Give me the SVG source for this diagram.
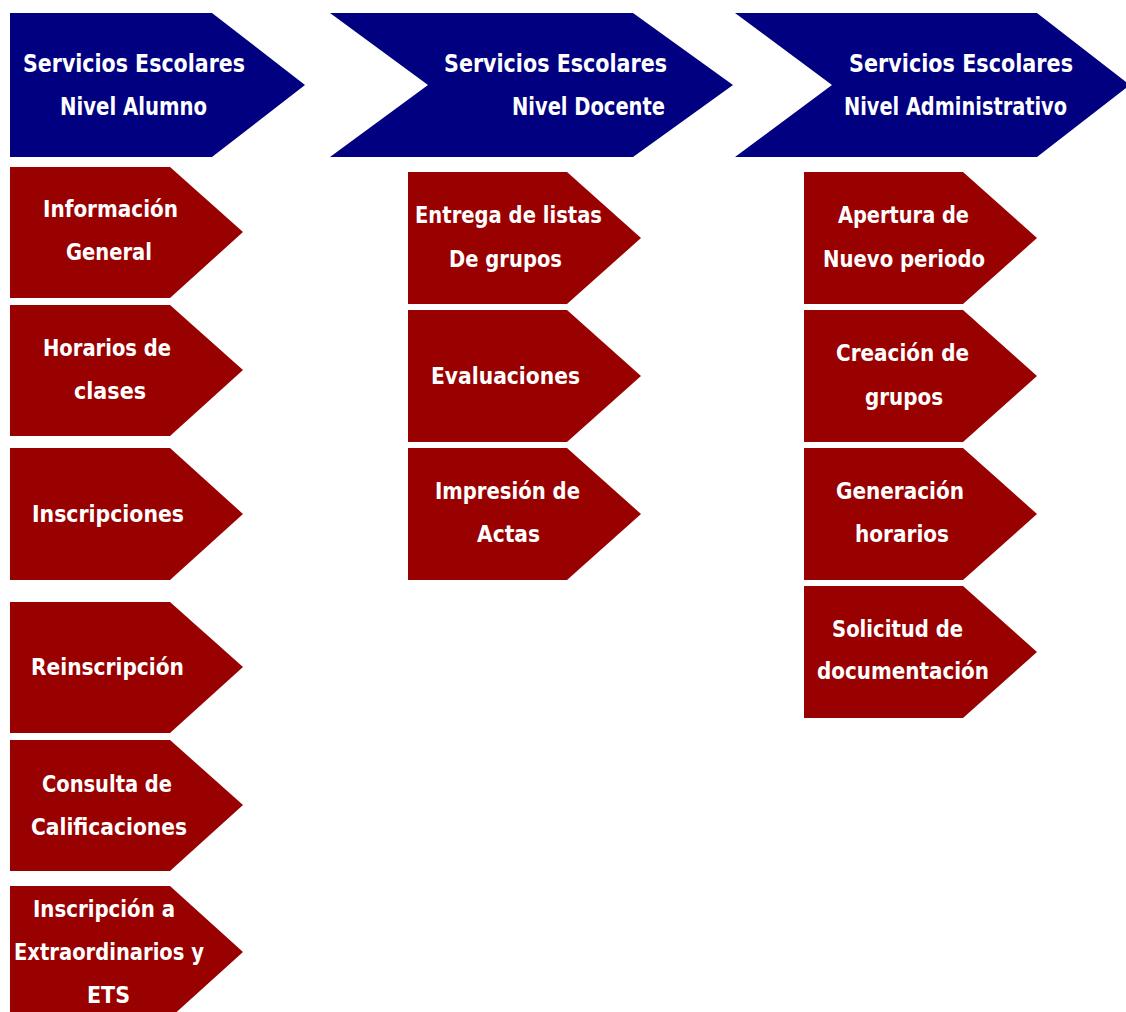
<svg xmlns="http://www.w3.org/2000/svg" width="1126" height="1012" viewBox="0 0 1126 1012">
  <style>
    .hdr { fill: #000080; }
    .item { fill: #990000; }
    text { fill: #ffffff; font-family: "DejaVu Sans", Tahoma, Verdana, sans-serif; font-weight: bold; font-size: 23px; }
    .h text { font-size: 24px; }
  </style>
  <rect width="1126" height="1012" fill="#ffffff"/>

  <!-- Level headers (chevrons) -->
  <g id="hdr-alumno" class="h">
    <polygon class="hdr" points="10,13 212,13 305,85 212,157 10,157"/>
    <text x="23" y="72" textLength="222" lengthAdjust="spacingAndGlyphs">Servicios Escolares</text>
    <text x="60" y="115" textLength="147" lengthAdjust="spacingAndGlyphs">Nivel Alumno</text>
  </g>
  <g id="hdr-docente" class="h">
    <polygon class="hdr" points="330,13 633,13 733,85 633,157 330,157 428,85"/>
    <text x="444" y="72" textLength="223" lengthAdjust="spacingAndGlyphs">Servicios Escolares</text>
    <text x="512" y="115" textLength="153" lengthAdjust="spacingAndGlyphs">Nivel Docente</text>
  </g>
  <g id="hdr-administrativo" class="h">
    <polygon class="hdr" points="735,13 1037,13 1130,85 1037,157 735,157 832,85"/>
    <text x="849" y="72" textLength="224" lengthAdjust="spacingAndGlyphs">Servicios Escolares</text>
    <text x="844" y="115" textLength="223" lengthAdjust="spacingAndGlyphs">Nivel Administrativo</text>
  </g>

  <!-- Column 1: student services -->
  <g id="informacion-general">
    <polygon class="item" points="10,167 170,167 243,232 170,298 10,298"/>
    <text x="43" y="217" textLength="135" lengthAdjust="spacingAndGlyphs">Información</text>
    <text x="66" y="260" textLength="86" lengthAdjust="spacingAndGlyphs">General</text>
  </g>
  <g id="horarios-clases">
    <polygon class="item" points="10,305 170,305 243,370 170,436 10,436"/>
    <text x="43" y="356" textLength="128" lengthAdjust="spacingAndGlyphs">Horarios de</text>
    <text x="74" y="399" textLength="72" lengthAdjust="spacingAndGlyphs">clases</text>
  </g>
  <g id="inscripciones">
    <polygon class="item" points="10,448 170,448 243,514 170,580 10,580"/>
    <text x="32" y="522" textLength="152" lengthAdjust="spacingAndGlyphs">Inscripciones</text>
  </g>
  <g id="reinscripcion">
    <polygon class="item" points="10,602 170,602 243,667 170,733 10,733"/>
    <text x="31" y="675" textLength="153" lengthAdjust="spacingAndGlyphs">Reinscripción</text>
  </g>
  <g id="consulta-calificaciones">
    <polygon class="item" points="10,740 170,740 243,805 170,871 10,871"/>
    <text x="42" y="792" textLength="130" lengthAdjust="spacingAndGlyphs">Consulta de</text>
    <text x="31" y="835" textLength="156" lengthAdjust="spacingAndGlyphs">Calificaciones</text>
  </g>
  <g id="inscripcion-extraordinarios">
    <polygon class="item" points="10,886 170,886 243,952 170,1018 10,1018"/>
    <text x="33" y="917" textLength="142" lengthAdjust="spacingAndGlyphs">Inscripción a</text>
    <text x="14" y="960" textLength="190" lengthAdjust="spacingAndGlyphs">Extraordinarios y</text>
    <text x="87" y="1003" textLength="43" lengthAdjust="spacingAndGlyphs">ETS</text>
  </g>

  <!-- Column 2: teacher services -->
  <g id="entrega-listas">
    <polygon class="item" points="408,172 567,172 641,238 567,304 408,304"/>
    <text x="415" y="223" textLength="187" lengthAdjust="spacingAndGlyphs">Entrega de listas</text>
    <text x="449" y="267" textLength="113" lengthAdjust="spacingAndGlyphs">De grupos</text>
  </g>
  <g id="evaluaciones">
    <polygon class="item" points="408,310 567,310 641,376 567,442 408,442"/>
    <text x="431" y="384" textLength="149" lengthAdjust="spacingAndGlyphs">Evaluaciones</text>
  </g>
  <g id="impresion-actas">
    <polygon class="item" points="408,448 567,448 641,514 567,580 408,580"/>
    <text x="435" y="499" textLength="145" lengthAdjust="spacingAndGlyphs">Impresión de</text>
    <text x="477" y="542" textLength="63" lengthAdjust="spacingAndGlyphs">Actas</text>
  </g>

  <!-- Column 3: administrative services -->
  <g id="apertura-periodo">
    <polygon class="item" points="804,172 963,172 1037,238 963,304 804,304"/>
    <text x="838" y="223" textLength="131" lengthAdjust="spacingAndGlyphs">Apertura de</text>
    <text x="823" y="267" textLength="162" lengthAdjust="spacingAndGlyphs">Nuevo periodo</text>
  </g>
  <g id="creacion-grupos">
    <polygon class="item" points="804,310 963,310 1037,376 963,442 804,442"/>
    <text x="836" y="361" textLength="133" lengthAdjust="spacingAndGlyphs">Creación de</text>
    <text x="865" y="405" textLength="78" lengthAdjust="spacingAndGlyphs">grupos</text>
  </g>
  <g id="generacion-horarios">
    <polygon class="item" points="804,448 963,448 1037,514 963,580 804,580"/>
    <text x="836" y="499" textLength="128" lengthAdjust="spacingAndGlyphs">Generación</text>
    <text x="855" y="542" textLength="94" lengthAdjust="spacingAndGlyphs">horarios</text>
  </g>
  <g id="solicitud-documentacion">
    <polygon class="item" points="804,586 963,586 1037,652 963,718 804,718"/>
    <text x="832" y="637" textLength="131" lengthAdjust="spacingAndGlyphs">Solicitud de</text>
    <text x="817" y="679" textLength="172" lengthAdjust="spacingAndGlyphs">documentación</text>
  </g>

  <!-- No connectors: the chevrons themselves carry the flow -->
  <g id="connectors"/>
</svg>
